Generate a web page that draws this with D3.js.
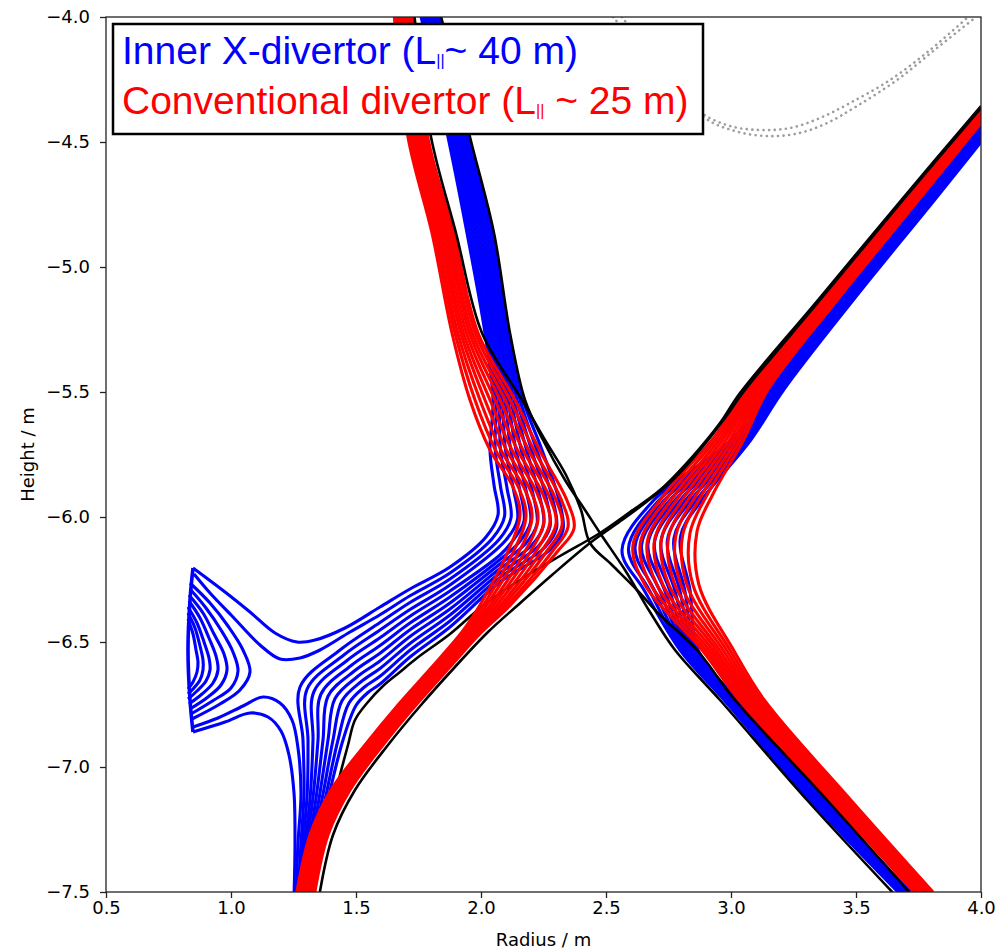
<!DOCTYPE html>
<html><head><meta charset="utf-8">
<script src="https://cdnjs.cloudflare.com/ajax/libs/d3/7.8.5/d3.min.js"></script>
<style>body{margin:0;background:#fff}</style>
</head><body>
<svg id="chart" width="997" height="950"></svg>
<script>
// ---------------- DATA (R, Z in metres) ----------------
const xTicks=[0.5,1.0,1.5,2.0,2.5,3.0,3.5,4.0];
const yTicks=[-7.5,-7.0,-6.5,-6.0,-5.5,-5.0,-4.5,-4.0];
const xTitle='Radius / m', yTitle='Height / m';

// Inner X-divertor: flux lines from the upper inboard SOL (outermost first)
const blueMain=[
[[1.756,-3.98],[1.868,-4.48],[1.944,-4.864],[2.016,-5.264],[2.048,-5.532],[2.036,-5.732],[2.052,-5.872],[2.068,-5.992],[2.020,-6.080],[1.876,-6.200],[1.716,-6.288],[1.596,-6.360],[1.456,-6.444],[1.336,-6.492],[1.264,-6.500],[1.176,-6.464],[1.076,-6.380],[0.976,-6.300],[0.848,-6.204]],
[[1.763,-3.98],[1.876,-4.48],[1.954,-4.864],[2.025,-5.264],[2.060,-5.532],[2.057,-5.732],[2.078,-5.878],[2.094,-5.998],[2.046,-6.085],[1.876,-6.224],[1.716,-6.315],[1.596,-6.391],[1.476,-6.460],[1.356,-6.532],[1.276,-6.564],[1.196,-6.568],[1.116,-6.512],[1.008,-6.400],[0.916,-6.304],[0.852,-6.228]],
[[1.770,-3.98],[1.884,-4.48],[1.964,-4.864],[2.034,-5.264],[2.072,-5.532],[2.078,-5.732],[2.104,-5.884],[2.120,-6.004],[2.072,-6.090],[1.876,-6.248],[1.716,-6.342],[1.596,-6.422],[1.436,-6.532],[1.276,-6.680],[1.288,-6.892],[1.292,-7.104],[1.280,-7.304],[1.268,-7.52]],
[[1.778,-3.98],[1.892,-4.48],[1.974,-4.864],[2.044,-5.264],[2.084,-5.532],[2.098,-5.732],[2.130,-5.890],[2.146,-6.010],[2.098,-6.094],[1.876,-6.272],[1.716,-6.370],[1.596,-6.452],[1.450,-6.553],[1.304,-6.689],[1.308,-6.892],[1.305,-7.104],[1.288,-7.304],[1.273,-7.52]],
[[1.785,-3.98],[1.900,-4.48],[1.984,-4.864],[2.053,-5.264],[2.096,-5.532],[2.119,-5.732],[2.156,-5.896],[2.172,-6.016],[2.124,-6.099],[2.076,-6.152],[1.876,-6.296],[1.716,-6.397],[1.596,-6.483],[1.464,-6.574],[1.332,-6.698],[1.328,-6.892],[1.318,-7.104],[1.297,-7.304],[1.278,-7.52]],
[[1.792,-3.98],[1.908,-4.48],[1.994,-4.864],[2.062,-5.264],[2.108,-5.532],[2.140,-5.732],[2.182,-5.902],[2.198,-6.022],[2.150,-6.104],[2.076,-6.170],[1.876,-6.320],[1.716,-6.424],[1.596,-6.514],[1.478,-6.596],[1.360,-6.708],[1.348,-6.892],[1.330,-7.104],[1.305,-7.304],[1.284,-7.52]],
[[1.799,-3.98],[1.916,-4.48],[2.004,-4.864],[2.071,-5.264],[2.120,-5.532],[2.161,-5.732],[2.208,-5.908],[2.224,-6.028],[2.176,-6.109],[2.076,-6.188],[1.876,-6.344],[1.716,-6.451],[1.596,-6.545],[1.492,-6.617],[1.388,-6.717],[1.368,-6.892],[1.343,-7.104],[1.314,-7.304],[1.289,-7.52]],
[[1.806,-3.98],[1.924,-4.48],[2.014,-4.864],[2.080,-5.264],[2.132,-5.532],[2.182,-5.732],[2.234,-5.914],[2.250,-6.034],[2.202,-6.114],[2.076,-6.206],[1.876,-6.368],[1.716,-6.478],[1.596,-6.576],[1.506,-6.638],[1.416,-6.726],[1.388,-6.892],[1.356,-7.104],[1.322,-7.304],[1.294,-7.52]],
[[1.814,-3.98],[1.932,-4.48],[2.024,-4.864],[2.090,-5.264],[2.144,-5.532],[2.202,-5.732],[2.260,-5.920],[2.276,-6.040],[2.228,-6.118],[2.076,-6.224],[1.876,-6.392],[1.716,-6.506],[1.596,-6.606],[1.520,-6.659],[1.444,-6.735],[1.408,-6.892],[1.369,-7.104],[1.330,-7.304],[1.299,-7.52]],
[[1.821,-3.98],[1.940,-4.48],[2.034,-4.864],[2.099,-5.264],[2.156,-5.532],[2.223,-5.732],[2.286,-5.926],[2.302,-6.046],[2.254,-6.123],[2.076,-6.242],[1.876,-6.416],[1.716,-6.533],[1.596,-6.637],[1.534,-6.680],[1.472,-6.744],[1.428,-6.892],[1.382,-7.104],[1.339,-7.304],[1.304,-7.52]],
[[1.828,-3.98],[1.948,-4.48],[2.044,-4.864],[2.108,-5.264],[2.168,-5.532],[2.244,-5.732],[2.312,-5.932],[2.328,-6.052],[2.280,-6.128],[2.076,-6.260],[1.876,-6.440],[1.716,-6.560],[1.596,-6.668],[1.548,-6.702],[1.500,-6.754],[1.448,-6.892],[1.394,-7.104],[1.347,-7.304],[1.310,-7.52]]
];
// Inner X-divertor: lines on the target side of the secondary X-point
const blueNested=[
[[0.836,-6.264],[0.916,-6.344],[0.988,-6.436],[1.048,-6.532],[1.076,-6.620],[1.036,-6.692],[0.956,-6.748],[0.844,-6.808]],
[[0.836,-6.288],[0.900,-6.364],[0.960,-6.452],[1.008,-6.540],[1.028,-6.616],[1.000,-6.684],[0.932,-6.732],[0.840,-6.788]],
[[0.832,-6.312],[0.888,-6.384],[0.932,-6.468],[0.972,-6.548],[0.984,-6.612],[0.960,-6.672],[0.908,-6.720],[0.836,-6.768]],
[[0.832,-6.336],[0.876,-6.404],[0.912,-6.484],[0.940,-6.556],[0.948,-6.612],[0.928,-6.664],[0.884,-6.708],[0.832,-6.748]],
[[0.828,-6.360],[0.864,-6.424],[0.892,-6.500],[0.912,-6.564],[0.916,-6.612],[0.900,-6.656],[0.864,-6.696],[0.828,-6.728]],
[[0.828,-6.384],[0.856,-6.444],[0.876,-6.516],[0.888,-6.572],[0.888,-6.612],[0.876,-6.652],[0.848,-6.688],[0.828,-6.708]],
[[0.828,-6.408],[0.848,-6.468],[0.860,-6.532],[0.868,-6.580],[0.864,-6.620],[0.848,-6.660],[0.828,-6.688]]
];
const blueLower=[
[[0.848,-6.840],[0.948,-6.804],[1.048,-6.756],[1.128,-6.720],[1.196,-6.744],[1.244,-6.812],[1.268,-6.924],[1.280,-7.104],[1.268,-7.304],[1.260,-7.52]],
[[0.848,-6.860],[0.976,-6.820],[1.076,-6.784],[1.148,-6.800],[1.200,-6.856],[1.232,-6.952],[1.252,-7.104],[1.256,-7.304],[1.252,-7.52]]
];
const blueTarget=[[0.848,-6.204],[0.836,-6.332],[0.828,-6.532],[0.836,-6.732],[0.848,-6.860]];
// Inner X-divertor: outboard leg
const blueOuter=[
[[4.0,-4.500],[3.814,-4.732],[3.489,-5.132],[3.210,-5.492],[3.079,-5.692],[2.883,-5.932],[2.798,-6.078],[2.836,-6.292],[2.868,-6.532],[3.026,-6.732],[3.374,-7.132],[3.718,-7.5]],
[[4.0,-4.492],[3.807,-4.732],[3.482,-5.132],[3.204,-5.492],[3.070,-5.692],[2.862,-5.932],[2.772,-6.084],[2.815,-6.292],[2.860,-6.532],[3.020,-6.732],[3.367,-7.132],[3.713,-7.5]],
[[4.0,-4.484],[3.801,-4.732],[3.475,-5.132],[3.198,-5.492],[3.062,-5.692],[2.840,-5.932],[2.746,-6.090],[2.795,-6.292],[2.852,-6.532],[3.014,-6.732],[3.361,-7.132],[3.707,-7.5]],
[[4.0,-4.476],[3.795,-4.732],[3.469,-5.132],[3.192,-5.492],[3.053,-5.692],[2.819,-5.932],[2.720,-6.096],[2.775,-6.292],[2.844,-6.532],[3.008,-6.732],[3.355,-7.132],[3.702,-7.5]],
[[4.0,-4.468],[3.788,-4.732],[3.462,-5.132],[3.186,-5.492],[3.044,-5.692],[2.798,-5.932],[2.694,-6.102],[2.754,-6.292],[2.836,-6.532],[3.002,-6.732],[3.348,-7.132],[3.696,-7.5]],
[[4.0,-4.460],[3.782,-4.732],[3.455,-5.132],[3.180,-5.492],[3.035,-5.692],[2.777,-5.932],[2.668,-6.108],[2.734,-6.292],[2.828,-6.532],[2.996,-6.732],[3.342,-7.132],[3.690,-7.5]],
[[4.0,-4.452],[3.776,-4.732],[3.448,-5.132],[3.174,-5.492],[3.026,-5.692],[2.756,-5.932],[2.642,-6.114],[2.714,-6.292],[2.820,-6.532],[2.990,-6.732],[3.336,-7.132],[3.685,-7.5]],
[[4.0,-4.444],[3.769,-4.732],[3.441,-5.132],[3.168,-5.492],[3.018,-5.692],[2.734,-5.932],[2.616,-6.120],[2.693,-6.292],[2.812,-6.532],[2.984,-6.732],[3.329,-7.132],[3.679,-7.5]],
[[4.0,-4.436],[3.763,-4.732],[3.435,-5.132],[3.162,-5.492],[3.009,-5.692],[2.713,-5.932],[2.590,-6.126],[2.673,-6.292],[2.804,-6.532],[2.978,-6.732],[3.323,-7.132],[3.674,-7.5]],
[[4.0,-4.428],[3.756,-4.732],[3.428,-5.132],[3.156,-5.492],[3.000,-5.692],[2.692,-5.932],[2.564,-6.132],[2.652,-6.292],[2.796,-6.532],[2.972,-6.732],[3.316,-7.132],[3.668,-7.5]]
];
// Conventional divertor: inboard lines
const redInner=[
[[1.652,-3.98],[1.708,-4.48],[1.804,-4.864],[1.884,-5.264],[1.956,-5.532],[2.036,-5.732],[2.128,-5.880],[2.156,-5.992],[2.096,-6.164],[1.996,-6.352],[1.924,-6.460],[1.800,-6.604],[1.668,-6.752],[1.536,-6.912],[1.400,-7.092],[1.316,-7.272],[1.260,-7.52]],
[[1.660,-3.98],[1.717,-4.48],[1.814,-4.864],[1.896,-5.264],[1.976,-5.532],[2.058,-5.732],[2.152,-5.886],[2.180,-5.998],[2.119,-6.161],[2.010,-6.352],[1.933,-6.460],[1.808,-6.604],[1.676,-6.752],[1.544,-6.912],[1.408,-7.092],[1.324,-7.272],[1.268,-7.52]],
[[1.669,-3.98],[1.726,-4.48],[1.823,-4.864],[1.907,-5.264],[1.996,-5.532],[2.080,-5.732],[2.176,-5.892],[2.204,-6.004],[2.142,-6.158],[2.023,-6.352],[1.942,-6.460],[1.816,-6.604],[1.684,-6.752],[1.552,-6.912],[1.417,-7.092],[1.332,-7.272],[1.276,-7.52]],
[[1.677,-3.98],[1.734,-4.48],[1.833,-4.864],[1.919,-5.264],[2.016,-5.532],[2.102,-5.732],[2.200,-5.898],[2.228,-6.010],[2.166,-6.156],[2.037,-6.352],[1.950,-6.460],[1.824,-6.604],[1.692,-6.752],[1.560,-6.912],[1.425,-7.092],[1.340,-7.272],[1.284,-7.52]],
[[1.686,-3.98],[1.743,-4.48],[1.842,-4.864],[1.930,-5.264],[2.036,-5.532],[2.124,-5.732],[2.224,-5.904],[2.252,-6.016],[2.189,-6.153],[2.050,-6.352],[1.959,-6.460],[1.832,-6.604],[1.700,-6.752],[1.568,-6.912],[1.434,-7.092],[1.348,-7.272],[1.292,-7.52]],
[[1.694,-3.98],[1.752,-4.48],[1.852,-4.864],[1.942,-5.264],[2.056,-5.532],[2.146,-5.732],[2.248,-5.910],[2.276,-6.022],[2.212,-6.150],[2.064,-6.352],[1.968,-6.460],[1.840,-6.604],[1.708,-6.752],[1.576,-6.912],[1.442,-7.092],[1.356,-7.272],[1.300,-7.52]],
[[1.702,-3.98],[1.761,-4.48],[1.862,-4.864],[1.954,-5.264],[2.076,-5.532],[2.168,-5.732],[2.272,-5.916],[2.300,-6.028],[2.235,-6.147],[2.078,-6.352],[1.977,-6.460],[1.848,-6.604],[1.716,-6.752],[1.584,-6.912],[1.450,-7.092],[1.364,-7.272],[1.308,-7.52]],
[[1.711,-3.98],[1.770,-4.48],[1.871,-4.864],[1.965,-5.264],[2.096,-5.532],[2.190,-5.732],[2.296,-5.922],[2.324,-6.034],[2.258,-6.144],[2.091,-6.352],[1.986,-6.460],[1.856,-6.604],[1.724,-6.752],[1.592,-6.912],[1.459,-7.092],[1.372,-7.272],[1.316,-7.52]],
[[1.719,-3.98],[1.778,-4.48],[1.881,-4.864],[1.977,-5.264],[2.116,-5.532],[2.212,-5.732],[2.320,-5.928],[2.348,-6.040],[2.282,-6.142],[2.105,-6.352],[1.994,-6.460],[1.864,-6.604],[1.732,-6.752],[1.600,-6.912],[1.467,-7.092],[1.380,-7.272],[1.324,-7.52]],
[[1.728,-3.98],[1.787,-4.48],[1.890,-4.864],[1.988,-5.264],[2.136,-5.532],[2.234,-5.732],[2.344,-5.934],[2.372,-6.046],[2.305,-6.139],[2.118,-6.352],[2.003,-6.460],[1.872,-6.604],[1.740,-6.752],[1.608,-6.912],[1.476,-7.092],[1.388,-7.272],[1.332,-7.52]]
];
// Conventional divertor: outboard lines
const redOuter=[
[[4.0,-4.424],[3.750,-4.732],[3.425,-5.132],[3.147,-5.492],[3.050,-5.692],[2.926,-5.912],[2.864,-6.058],[2.872,-6.272],[3.010,-6.532],[3.133,-6.732],[3.479,-7.132],[3.808,-7.5]],
[[4.0,-4.418],[3.744,-4.732],[3.418,-5.132],[3.138,-5.492],[3.036,-5.692],[2.904,-5.912],[2.836,-6.064],[2.848,-6.272],[2.996,-6.532],[3.122,-6.732],[3.470,-7.132],[3.800,-7.5]],
[[4.0,-4.411],[3.738,-4.732],[3.411,-5.132],[3.129,-5.492],[3.022,-5.692],[2.883,-5.912],[2.807,-6.070],[2.824,-6.272],[2.982,-6.532],[3.111,-6.732],[3.461,-7.132],[3.791,-7.5]],
[[4.0,-4.405],[3.732,-4.732],[3.405,-5.132],[3.121,-5.492],[3.008,-5.692],[2.861,-5.912],[2.779,-6.076],[2.800,-6.272],[2.968,-6.532],[3.099,-6.732],[3.451,-7.132],[3.783,-7.5]],
[[4.0,-4.398],[3.726,-4.732],[3.398,-5.132],[3.112,-5.492],[2.994,-5.692],[2.840,-5.912],[2.750,-6.082],[2.776,-6.272],[2.954,-6.532],[3.088,-6.732],[3.442,-7.132],[3.774,-7.5]],
[[4.0,-4.392],[3.720,-4.732],[3.391,-5.132],[3.103,-5.492],[2.980,-5.692],[2.818,-5.912],[2.722,-6.088],[2.752,-6.272],[2.940,-6.532],[3.077,-6.732],[3.433,-7.132],[3.766,-7.5]],
[[4.0,-4.386],[3.714,-4.732],[3.384,-5.132],[3.094,-5.492],[2.966,-5.692],[2.796,-5.912],[2.694,-6.094],[2.728,-6.272],[2.926,-6.532],[3.066,-6.732],[3.424,-7.132],[3.758,-7.5]],
[[4.0,-4.379],[3.708,-4.732],[3.377,-5.132],[3.085,-5.492],[2.952,-5.692],[2.775,-5.912],[2.665,-6.100],[2.704,-6.272],[2.912,-6.532],[3.055,-6.732],[3.415,-7.132],[3.749,-7.5]],
[[4.0,-4.373],[3.702,-4.732],[3.371,-5.132],[3.077,-5.492],[2.938,-5.692],[2.753,-5.912],[2.637,-6.106],[2.680,-6.272],[2.898,-6.532],[3.043,-6.732],[3.405,-7.132],[3.741,-7.5]],
[[4.0,-4.366],[3.696,-4.732],[3.364,-5.132],[3.068,-5.492],[2.924,-5.692],[2.732,-5.912],[2.608,-6.112],[2.656,-6.272],[2.884,-6.532],[3.032,-6.732],[3.396,-7.132],[3.732,-7.5]]
];
// Separatrices (black)
const sepBlue=[
[[1.836,-3.98],[1.956,-4.48],[2.052,-4.864],[2.116,-5.264],[2.176,-5.532],[2.248,-5.692],[2.336,-5.852],[2.416,-5.972],[2.476,-6.064],[2.576,-6.212],[2.676,-6.38],[2.776,-6.532],[2.956,-6.732],[3.304,-7.132],[3.664,-7.52]],
[[1.324,-7.52],[1.364,-7.312],[1.408,-7.152],[1.436,-7.032],[1.468,-6.912],[1.496,-6.812],[1.548,-6.740],[1.608,-6.676],[1.676,-6.620],[1.744,-6.564],[1.876,-6.468],[2.016,-6.348],[2.156,-6.252],[2.316,-6.156],[2.476,-6.064],[2.596,-5.980],[2.716,-5.892],[2.848,-5.756],[2.956,-5.624],[3.036,-5.504],[3.348,-5.132],[3.688,-4.724],[4.0,-4.356]]
];
const sepRed=[
[[1.732,-3.98],[1.800,-4.48],[1.900,-4.864],[2.004,-5.264],[2.164,-5.532],[2.256,-5.692],[2.340,-5.832],[2.400,-5.972],[2.436,-6.104],[2.524,-6.192],[2.624,-6.292],[2.716,-6.392],[2.864,-6.532],[3.016,-6.732],[3.384,-7.132],[3.73,-7.52]],
[[1.352,-7.52],[1.408,-7.272],[1.496,-7.092],[1.628,-6.912],[1.760,-6.752],[1.892,-6.604],[2.028,-6.46],[2.148,-6.352],[2.284,-6.232],[2.436,-6.104],[2.536,-6.032],[2.656,-5.944],[2.776,-5.844],[2.876,-5.732],[2.976,-5.604],[3.056,-5.492],[3.356,-5.132],[3.688,-4.732],[4.0,-4.364]]
];
// First wall (grey dotted)
const wallDotted=[
[[2.528,-4.0],[2.716,-4.212],[2.876,-4.38],[2.996,-4.436],[3.116,-4.452],[3.236,-4.444],[3.356,-4.404],[3.476,-4.344],[3.636,-4.252],[3.796,-4.132],[3.948,-4.0]],
[[2.564,-4.0],[2.736,-4.22],[2.896,-4.404],[3.016,-4.456],[3.136,-4.476],[3.256,-4.468],[3.376,-4.428],[3.504,-4.356],[3.664,-4.252],[3.824,-4.124],[3.98,-4.0]]
];
const legendBlue=['Inner X-divertor (L','||','~ 40 m)'];
const legendRed=['Conventional divertor (L','||',' ~ 25 m)'];

// ---------------- DRAWING ----------------
const L=106,T=17,PW=875,PH=875;
const x=d3.scaleLinear().domain([0.5,4.0]).range([L,L+PW]);
const y=d3.scaleLinear().domain([-7.5,-4.0]).range([T+PH,T]);
const svg=d3.select('#chart');
svg.append('rect').attr('width',997).attr('height',950).attr('fill','#fff');
svg.append('defs').append('clipPath').attr('id','clip')
  .append('rect').attr('x',L).attr('y',T).attr('width',PW).attr('height',PH);
const line=d3.line().x(d=>x(d[0])).y(d=>y(d[1])).curve(d3.curveCatmullRom.alpha(0.5));
const g=svg.append('g').attr('clip-path','url(#clip)');

function draw(data,color,width,cls){
  g.selectAll('path.'+cls).data(data).join('path').attr('class',cls)
   .attr('d',line).attr('fill','none').attr('stroke',color)
   .attr('stroke-width',width).attr('stroke-linejoin','round').attr('stroke-linecap','butt');
}
g.selectAll('path.wall').data(wallDotted).join('path').attr('class','wall')
  .attr('d',line).attr('fill','none').attr('stroke','#9e9e9e').attr('stroke-width',2.6)
  .attr('stroke-dasharray','0.1,5.5').attr('stroke-linecap','round');

const CW=3.1;
draw(blueMain,'#0000ff',CW,'bm');
draw(blueNested,'#0000ff',CW,'bn');
draw(blueLower,'#0000ff',CW,'bl');
draw([blueTarget],'#0000ff',3.6,'bt');
draw(blueOuter,'#0000ff',CW,'bo');
draw(sepBlue,'#000000',2.6,'sb');
draw(redInner,'#ff0000',CW,'ri');
draw(redOuter,'#ff0000',CW,'ro');
draw(sepRed,'#000000',2.6,'sr');

// legend
const lg=svg.append('g');
lg.append('rect').attr('x',113).attr('y',24).attr('width',590).attr('height',110)
  .attr('fill','#fff').attr('stroke','#000').attr('stroke-width',2.5);
function legendText(parts,yb,color){
  const t=lg.append('text').attr('x',122).attr('y',yb).attr('fill',color)
    .attr('font-family','"Liberation Sans", Arial, sans-serif').attr('font-size',39);
  t.append('tspan').text(parts[0]);
  t.append('tspan').attr('font-size',16).attr('dy',2).text(parts[1]);
  t.append('tspan').attr('dy',-2).text(parts[2]);
}
legendText(legendBlue,64,'#0000ff');
legendText(legendRed,114,'#ff0000');

// axes
const fmt=d3.format('.1f');
const xa=svg.append('g').attr('transform',`translate(0,${T+PH})`)
  .call(d3.axisBottom(x).tickValues(xTicks).tickFormat(fmt).tickSize(6).tickPadding(3));
const ya=svg.append('g').attr('transform',`translate(${L},0)`)
  .call(d3.axisLeft(y).tickValues(yTicks).tickFormat(fmt).tickSize(6).tickPadding(10));
[xa,ya].forEach(a=>{
  a.select('.domain').remove();
  a.attr('font-size',18).attr('font-family','"DejaVu Sans", sans-serif');
  a.selectAll('text').attr('fill','#000');
  a.selectAll('line').attr('stroke','#222').attr('stroke-width',1.3);
});
svg.append('rect').attr('x',L).attr('y',T).attr('width',PW).attr('height',PH)
  .attr('fill','none').attr('stroke','#222').attr('stroke-width',1.3);

svg.append('text').attr('x',L+PW/2).attr('y',946).attr('text-anchor','middle')
  .attr('font-family','"DejaVu Sans", sans-serif').attr('font-size',18).text(xTitle);
svg.append('text').attr('transform',`translate(34,${T+PH/2}) rotate(-90)`).attr('text-anchor','middle')
  .attr('font-family','"DejaVu Sans", sans-serif').attr('font-size',18).text(yTitle);
</script>
</body></html>
